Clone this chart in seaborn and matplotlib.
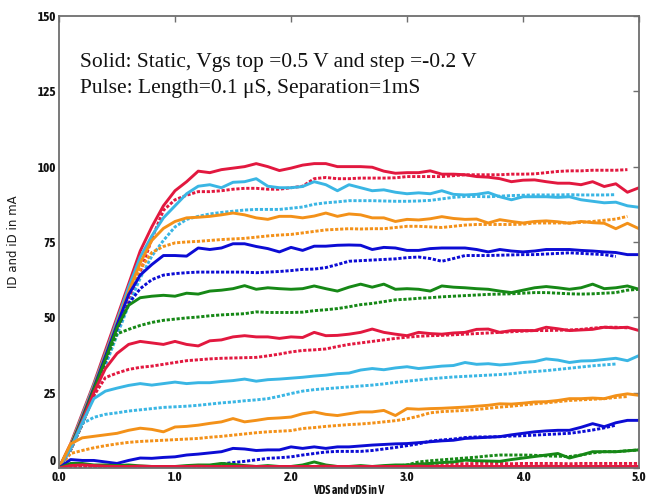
import numpy as np
import pandas as pd
import seaborn as sns
import matplotlib
matplotlib.use("Agg")
import matplotlib.pyplot as plt
from matplotlib import font_manager
from matplotlib.transforms import ScaledTranslation

"""Data (read off the reference picture), ID in mA against VDS in V"""

V = [round(0.1 * i, 1) for i in range(51)]
nan = np.nan

# Static curves (solid), Vgs = 0.5 V down to -1.5 V in steps of -0.2 V
S1 = [0, 8, 18, 28, 39, 50, 61, 72, 80, 87, 92, 95, 98.5, 98, 99, 99.5, 100, 101, 100, 98.7,
      99.5, 100.5, 101, 101, 100, 100, 100, 99.8, 98.5, 97.8, 98, 98, 98.6, 97.5, 97.5, 97.3,
      96.7, 96.5, 96, 95, 95.5, 95.6, 95, 94.5, 94.5, 94, 95, 93.4, 94.3, 91.5, 93]
S2 = [0, 7.5, 17.5, 27.5, 38, 49, 60, 70, 77, 83, 87, 91, 93.5, 94, 93, 94.8, 95, 96, 93.5, 93,
      93, 93.4, 95, 94, 92, 94, 93, 92, 92.3, 91.5, 91, 91.3, 91, 92, 90.8, 90.6, 90.8, 91.4,
      90, 89, 90, 90, 90, 89.8, 90, 89, 88.5, 88, 88.2, 87, 86.5]
S3 = [0, 7.5, 17, 27, 37.5, 48, 58.5, 68, 75.5, 79.5, 81.8, 83, 83.2, 83.5, 84, 84.6, 84, 83,
      82.5, 83.5, 83.5, 83, 83.6, 84.6, 83.5, 84.3, 84, 83, 83, 81.8, 82.5, 82.3, 82.7, 83.4,
      82.8, 82.5, 82.6, 81.3, 82.4, 81.8, 81.3, 81.8, 82, 81.7, 81.2, 81.8, 81.4, 81.2, 79.4,
      81.2, 79.4]
S4 = [0, 7, 16.5, 26.5, 37, 47.5, 57.5, 64, 67.5, 70.5, 70.5, 70.3, 73, 72.5, 73, 74.4, 74.4,
      73.5, 72.8, 71.7, 73.2, 72.2, 73.6, 73.6, 73.9, 74, 73.9, 72.5, 73.2, 73, 72.2, 72.2,
      72.8, 73, 73, 73, 72.5, 71.7, 72.5, 72, 71.7, 72, 72.5, 72.5, 72.5, 72.2, 72, 71.7,
      71.5, 70.8, 70.8]
S5 = [0, 7, 16, 26, 36, 46.5, 54, 56.5, 57, 57.3, 57, 58, 57.7, 58.7, 59, 59.5, 60.5, 59.3,
      59.8, 59.5, 59.3, 59.5, 60.4, 59.5, 58.7, 60, 61, 60, 61, 59.3, 59.5, 59.3, 58.7, 60.4,
      60, 59.8, 59.5, 59.3, 58.7, 58.2, 59, 59.8, 60.2, 59.8, 59.3, 59.8, 61, 59.5, 59.8,
      60.4, 59.3]
S6 = [0, 6.5, 15.5, 25, 33, 38, 41, 42, 41.5, 41, 42, 41, 40.5, 42.2, 42.5, 43.5, 43.9, 43.5,
      43.5, 43, 43.5, 43.3, 45, 43.9, 44, 44.4, 45, 46.1, 45, 44.4, 43.9, 45, 44.6, 44.4,
      44.8, 45, 46, 46.1, 45, 45.6, 45.6, 45.6, 46.7, 46.2, 45.6, 45.8, 46, 46.7, 46.5, 46.7,
      45.6]
S7 = [0, 6.5, 15, 23, 25.5, 26.5, 27.4, 28, 27.5, 28, 28.5, 28, 28.3, 28.3, 28.7, 29, 29.5,
      28.8, 29.3, 29.5, 29.8, 30.1, 30.5, 30.8, 31.3, 31.5, 32.5, 33, 32.6, 33.2, 33.6, 33,
      33.4, 33.8, 34, 35, 34.4, 34.6, 34.2, 34.5, 35, 35.3, 36.2, 35.8, 35, 35.5, 35.6, 36,
      36.4, 35.6, 37.3]
S8 = [0, 8, 10, 10.5, 11, 11.5, 12.5, 13.2, 12.8, 12, 13.6, 13.8, 14.2, 14.8, 15.3, 16.4,
      15.3, 15.8, 16.4, 16.6, 16.9, 18, 18.6, 17.8, 17.4, 18, 18.6, 18.6, 19.1, 17.4, 19.7,
      19.5, 19.7, 19.8, 20, 20.2, 20.5, 20.8, 21.3, 21.2, 21.5, 21.9, 22, 22.4, 23, 23, 23.2,
      23, 24, 24.6, 24.1]
S9 = [0, 2.8, 2.5, 2.5, 2, 1.5, 2.5, 3.3, 3.2, 3.5, 3.7, 4.3, 4.6, 5, 5.4, 6.5, 6.3, 5.8, 6,
      6, 7, 6.5, 7, 6.5, 7, 7, 7.3, 7.6, 7.8, 8, 8.1, 8.4, 8.7, 9, 9.2, 9.8, 10, 10.2, 10.4,
      11, 11.5, 12, 12.3, 12.5, 12.5, 13.5, 14.7, 13.7, 15, 15.8, 15.8]
S10 = [0, 1.5, 1.5, 1, 1, 0.8, 1, 0.7, 0.5, 0.5, 0.5, 0.8, 1, 1, 1.5, 1.2, 0.8, 0.5, 0.8,
       0.5, 0.5, 1, 2, 1, 0.5, 0.5, 0.8, 0.5, 0.8, 1, 1, 1.3, 1.5, 1.8, 2, 2.6, 2.4, 2.3, 2.2,
       2.8, 3.3, 3.8, 4.3, 4.8, 3.3, 4.3, 5.4, 5.4, 5.4, 5.7, 6]
S11 = [0, 0.8, 1, 0.8, 0.6, 0.5, 0.5, 0.6, 0.5, 0.5, 0.5, 0.5, 0.6, 0.5, 0.5, 0.5, 0.6, 0.5,
       0.5, 0.5, 0.5, 0.5, 0.5, 0.6, 0.5, 0.5, 0.5, 0.5, 0.5, 0.5, 0.5, 0.6, 0.5, 0.5, 0.5,
       0.5, 0.5, 0.5, 0.5, 0.5, 0.5, 0.5, 0.6, 0.5, 0.5, 0.5, 0.5, 0.5, 0.5, 0.5, 0.5]

# Pulsed curves (dotted), same gate voltages
P1 = [0, 6, 15, 25, 35, 45, 55, 65, 76, 85.5, 89, 90.5, 91.7, 91.7, 92, 92.5, 92.8, 92.8, 92.5,
      92.5, 93, 93.5, 96, 96.4, 96, 96, 96.2, 96.2, 96.2, 96.3, 96.7, 96.7, 96.7, 96.7, 97,
      97.3, 97.3, 97.3, 97.3, 97.5, 97.5, 97.6, 98, 98.4, 98.6, 98.6, 98.8, 98.8, 98.8, 99, nan]
P2 = [0, 6, 14.5, 24, 34, 44, 54, 63, 70.3, 75.5, 80, 82.5, 83.5, 84.3, 84.8, 85.2, 85.6, 85.8,
      85.8, 85.8, 86.2, 86.6, 87.5, 88, 88.3, 88.7, 88.7, 88.7, 88.6, 88.5, 88.5, 88.6, 88.8,
      89.3, 89.8, 90.1, 90.1, 90, 90.2, 90.4, 90.5, 90.6, 90.6, 90.6, 90.7, 90.6, 90.6, 90.6,
      90.7, nan, nan]
P3 = [0, 6.5, 15.5, 25.5, 36, 47, 58, 66, 71.5, 73.5, 74.7, 75, 75.2, 75.5, 75.8, 76, 76.2,
      76.6, 77, 77.3, 77.5, 78, 78.5, 79, 79.2, 79.4, 79.3, 79.4, 79.4, 79.8, 80.2, 80.2, 80,
      79.8, 80.2, 80.6, 80.8, 80.8, 80.8, 80.8, 80.9, 81.3, 81.3, 81.3, 81.3, 81.5, 81.8, 82.2,
      82.6, 83.5, nan]
P4 = [0, 6.5, 15, 25, 35.5, 46, 54.5, 59.5, 62.5, 64, 64.5, 64.8, 65, 65, 65, 65, 65, 64.8,
      65, 65.2, 65.5, 65.9, 66, 66.5, 67.5, 68.6, 68.8, 69, 69.2, 69.4, 69.8, 70, 69.5, 68.6,
      69.5, 70.5, 70.5, 70.5, 70.6, 70.7, 70.8, 70.8, 71, 71.2, 71.4, 71.2, 71, 70.8, 70.2,
      nan, nan]
P5 = [0, 6, 14.5, 24.5, 36, 44.5, 46, 47.3, 48.3, 49, 49.4, 49.8, 50.1, 50.5, 50.8, 51, 51.2,
      51.8, 51.6, 51.6, 51.6, 51.7, 52.2, 52.5, 52.9, 53.5, 54.2, 54.6, 55.2, 55.8, 56, 56.3,
      56.5, 56.8, 57, 57.2, 57.4, 57.6, 57.7, 57.8, 58, 58.2, 58.2, 58, 57.8, 57.7, 57.8, 58,
      58.2, 59, 59.3]
P6 = [0, 6, 14.5, 24, 30, 31.5, 32.7, 33.4, 33.8, 34.4, 35, 35.6, 35.9, 36.2, 36.4, 36.5,
      36.6, 36.7, 37.2, 37.8, 38.5, 39, 39.2, 39.5, 40.3, 41, 41.5, 42, 42.5, 43, 43.4, 43.7,
      43.9, 44, 44.2, 44.4, 44.6, 44.8, 45, 45.2, 45.4, 45.6, 45.6, 45.7, 45.8, 46, 46.4,
      46.7, 46.7, 46.5, nan]
P7 = [0, 6, 14.7, 16.8, 17.8, 18.3, 18.9, 19.3, 19.7, 20.1, 20.3, 20.5, 20.8, 21.2, 21.6,
      21.9, 22.3, 22.6, 23, 23.8, 24.7, 25.5, 26, 26.3, 26.6, 26.9, 27.2, 27.5, 27.9, 28.4,
      28.8, 29.2, 29.6, 29.9, 30.2, 30.4, 30.6, 30.8, 31, 31.3, 31.7, 32, 32.3, 32.7, 33.1,
      33.5, 33.9, 34.2, 34.5, nan, nan]
P8 = [0, 4.8, 5.8, 6.7, 7.4, 8, 8.5, 8.8, 9, 9.2, 9.4, 9.6, 9.8, 10.2, 10.5, 10.9, 11.3, 11.7,
      12, 12.2, 12.4, 13.1, 13.4, 13.8, 14.1, 14.4, 14.6, 14.9, 15.3, 15.7, 16.3, 17.2, 18.3,
      18.7, 18.9, 19.1, 19.4, 19.8, 20.2, 20.5, 20.9, 21.3, 21.6, 22, 22.4, 22.6, 22.8, 23,
      23.4, 23.7, nan]
P9 = [0, 0.4, 0.4, 0.4, 0.4, 0.4, 0.4, 0.4, 0.4, 0.4, 0.4, 0.4, 0.5, 0.8, 1.3, 1.8, 2.2, 2.7,
      3.2, 3.4, 3.7, 4.3, 4.8, 5.3, 5.5, 5.5, 5.5, 5.8, 6.3, 6.8, 7.4, 8, 8.9, 9.3, 9.6, 10.1,
      10.3, 10.3, 10.4, 10.6, 10.7, 10.9, 11.1, 11.3, 11.5, 12, 12.6, 13.3, 14.2, nan, nan]
P10 = [0, 0.6, 0.6, 0.5, 0.5, 0.5, 0.5, 0.5, 0.5, 0.5, 0.5, 0.5, 0.5, 0.5, 0.5, 0.5, 0.5, 0.5,
       0.5, 0.5, 0.5, 0.5, 0.5, 0.5, 0.5, 0.5, 0.5, 0.5, 0.5, 0.6, 1, 2, 2.4, 2.7, 3, 3.3, 3.6,
       4, 4.3, 4.3, 4.3, 4.2, 4, 3.9, 3.8, 4.3, 5, 5.4, 5.4, 5.7, 6]
P11 = [0, 0.4, 0.4, 0.4, 0.4, 0.4, 0.4, 0.4, 0.4, 0.4, 0.4, 0.4, 0.4, 0.4, 0.4, 0.4, 0.4,
       0.4, 0.4, 0.4, 0.4, 0.4, 0.4, 0.4, 0.4, 0.4, 0.4, 0.4, 0.4, 0.4, 0.5, 1.2, 1.5, 1.5,
       1.5, 1.4, 1.5, 1.5, 1.5, 1.4, 1.5, 1.5, 1.5, 1.5, 1.4, 1.5, 1.5, 1.5, 1.5, 1.5, 1.5]

Static_Curves = [S1, S2, S3, S4, S5, S6, S7, S8, S9, S10, S11]
Pulse_Curves = [P1, P2, P3, P4, P5, P6, P7, P8, P9, P10, P11]
Curve_Colors = ["#E2183F", "#3AB6E4", "#F39119", "#0C0CD4", "#168816"] * 3

Y_Ticks = [0, 25, 50, 75, 100, 125, 150]
X_Ticks = [0.0, 1.0, 2.0, 3.0, 4.0, 5.0]
Note_Lines = ["Solid: Static, Vgs top =0.5 V and step =-0.2 V",
              "Pulse: Length=0.1 \u03bcS, Separation=1mS"]

"""Plot"""

sns.set_style("white")


def Weight_Number(weight):
    if isinstance(weight, str):
        return font_manager.weight_dict.get(weight, 400)
    return weight


# a narrow sans face (bold if possible), if one is installed, for the ticks and x label
Narrow_Entries = [f for f in font_manager.fontManager.ttflist
                  if "Narrow" in f.name or "Condensed" in f.name]
Bold_Narrow = sorted({f.name for f in Narrow_Entries if Weight_Number(f.weight) >= 600})
Any_Narrow = sorted({f.name for f in Narrow_Entries})
if Bold_Narrow:
    Narrow_Font = [Bold_Narrow[0], "Liberation Sans"]
    Tick_Weight = "bold"
    Tick_Size = 9.5
elif Any_Narrow:
    Narrow_Font = [Any_Narrow[0], "Liberation Sans"]
    Tick_Weight = "normal"
    Tick_Size = 9.5
else:
    Narrow_Font = ["Liberation Sans", "DejaVu Sans"]
    Tick_Weight = "bold"
    Tick_Size = 7.5
Axis_Grey = "#6E6E6E"

fig = plt.figure(figsize=(6.52, 4.97), dpi=100)
ax = fig.add_axes([0.0905, 0.0584, 0.8896, 0.9095])

for index in range(len(Pulse_Curves)):
    Frame = pd.DataFrame({"VDS": V, "ID": Pulse_Curves[index]}).dropna()
    sns.lineplot(data=Frame, x="VDS", y="ID", ax=ax, color=Curve_Colors[index], lw=2.1,
                 linestyle=(0, (1.1, 0.6)), dash_capstyle="butt", legend=False,
                 estimator=None, sort=False)
for index in range(len(Static_Curves)):
    Frame = pd.DataFrame({"VDS": V, "ID": Static_Curves[index]})
    sns.lineplot(data=Frame, x="VDS", y="ID", ax=ax, color=Curve_Colors[index], lw=2.1,
                 legend=False, estimator=None, sort=False)

ax.set_xlim(0, 5)
ax.set_ylim(0, 150)
ax.set_xticks(X_Ticks)
ax.set_xticklabels(["%.1f" % x for x in X_Ticks])
ax.set_yticks(Y_Ticks)
ax.set_yticklabels([str(y) for y in Y_Ticks])
ax.tick_params(direction="in", length=4, width=1, color=Axis_Grey, top=True, right=True,
               labelsize=Tick_Size, pad=2)
for label in ax.get_xticklabels() + ax.get_yticklabels():
    label.set_family(Narrow_Font)
    label.set_fontweight(Tick_Weight)
    label.set_color("#111111")
# the zero label sits a little above its tick in the original
Zero_Label = ax.get_yticklabels()[0]
Zero_Label.set_transform(Zero_Label.get_transform() + ScaledTranslation(0, 0.08, fig.dpi_scale_trans))

for spine in ax.spines.values():
    spine.set_color(Axis_Grey)
    spine.set_linewidth(1.3)

ax.set_xlabel("VDS and vDS in V", family=Narrow_Font, fontsize=8.5, color="#111111",
              fontweight=Tick_Weight)
ax.xaxis.set_label_coords(0.5, -0.035)
ax.set_ylabel("ID and iD in mA", family="DejaVu Sans", fontsize=8.5, color="#1A1A1A")
ax.yaxis.set_label_coords(-0.068, 0.5)

ax.text(0.036, 0.887, Note_Lines[0], transform=ax.transAxes, family="Liberation Serif",
        fontsize=15.5, color="#111111", va="baseline", ha="left")
ax.text(0.036, 0.830, Note_Lines[1], transform=ax.transAxes, family="Liberation Serif",
        fontsize=15.5, color="#111111", va="baseline", ha="left")

fig.savefig("out.png", dpi=100)
